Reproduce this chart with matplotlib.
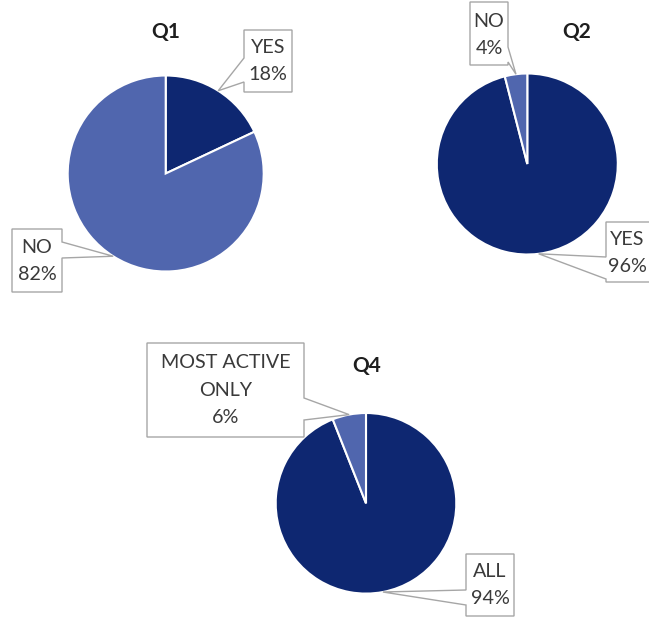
import numpy as np
import matplotlib
matplotlib.use("Agg")
import matplotlib.pyplot as plt
from matplotlib.patches import Polygon

plt.rcParams['font.family'] = ['Lato', 'DejaVu Sans']

# ---- data ----
q1_labels = ["YES", "NO"]
q1_values = [18, 82]
q2_labels = ["YES", "NO"]
q2_values = [96, 4]
q4_labels = ["ALL", "MOST ACTIVE\nONLY"]
q4_values = [94, 6]
titles = ["Q1", "Q2", "Q4"]

DARK = "#0E2771"
LIGHT = "#5066AE"
TEXT = "#3A3A3A"
BORDER = "#A6A6A6"

W, H = 649, 618
fig = plt.figure(figsize=(W / 100, H / 100), dpi=100)
ax = fig.add_axes([0, 0, 1, 1])


def Y(y):
    return H - y


def draw_pie(values, center, r):
    ax.pie(values, colors=[DARK, LIGHT], startangle=90, counterclock=False,
           center=(center[0], Y(center[1])), radius=r,
           wedgeprops=dict(edgecolor="white", linewidth=1.5))
    tips = []
    start = 90.0
    total = float(sum(values))
    for v in values:
        span = 360.0 * v / total
        mid = np.deg2rad(start - span / 2)
        tips.append((center[0] + r * np.cos(mid), center[1] - r * np.sin(mid)))
        start -= span
    return tips


def callout(text, box, side, base, tip, textpos):
    x0, y0, x1, y1 = box
    b1, b2 = base
    if side == "left":
        pts = [(x0, y0), (x1, y0), (x1, y1), (x0, y1), (x0, b2), tip, (x0, b1)]
    else:
        pts = [(x0, y0), (x1, y0), (x1, b1), tip, (x1, b2), (x1, y1), (x0, y1)]
    pts = [(px, Y(py)) for px, py in pts]
    ax.add_patch(Polygon(pts, closed=True, facecolor="white", edgecolor=BORDER,
                         linewidth=1.0, zorder=5))
    ax.text(textpos[0], Y(textpos[1]), text, ha="center", va="center",
            fontsize=14.2, color=TEXT, linespacing=1.75, zorder=6)


def title(x, y, s):
    ax.text(x, Y(y), s, ha="center", va="center", fontsize=15,
            fontweight="bold", color="#1E1E1E")


# Q1
t1 = draw_pie(q1_values, (165.7, 173.5), 98)
title(165.7, 32, titles[0])
callout(f"{q1_labels[0]}\n{q1_values[0]}%", (244, 30, 292, 92), "left", (58, 82), t1[0], (268, 61))
callout(f"{q1_labels[1]}\n{q1_values[1]}%", (12, 229, 62, 292), "right", (242, 258), t1[1], (37, 261))

# Q2
t2 = draw_pie(q2_values, (527.3, 164), 90.5)
title(577, 32, titles[1])
callout(f"{q2_labels[1]}\n{q2_values[1]}%", (470, 2, 508, 65), "right", (47, 62), t2[1], (489, 35))
callout(f"{q2_labels[0]}\n{q2_values[0]}%", (606, 222, 660, 282), "left", (257, 279), t2[0], (627.5, 253))

# Q4
t4 = draw_pie(q4_values, (366, 503.3), 90.3)
title(366.7, 366, titles[2])
callout(f"{q4_labels[1]}\n{q4_values[1]}%", (147, 343, 304, 437), "right", (398, 420), t4[1], (225.5, 390))
callout(f"{q4_labels[0]}\n{q4_values[0]}%", (466, 554, 514, 616), "left", (590, 605), t4[0], (490, 585))

ax.set_xlim(0, W)
ax.set_ylim(0, H)
ax.set_aspect("auto")
ax.axis("off")

fig.savefig("out.png", dpi=100, facecolor="white")
